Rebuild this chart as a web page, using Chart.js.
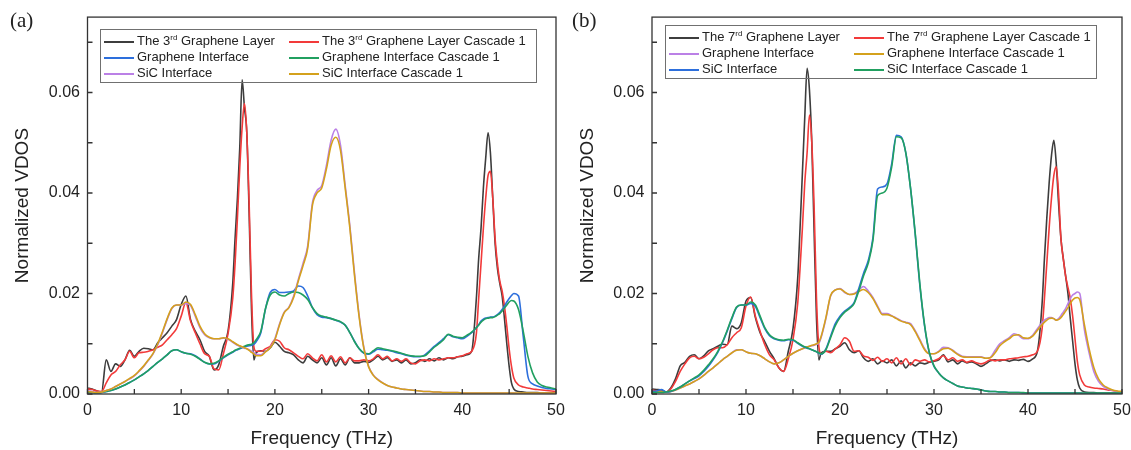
<!DOCTYPE html>
<html>
<head>
<meta charset="utf-8">
<script src="https://cdn.jsdelivr.net/npm/chart.js@4.4.1/dist/chart.umd.min.js"></script>
<style>
body { margin: 0; background: #fff; width: 1131px; height: 450px; position: relative; overflow: hidden; font-family: "Liberation Sans", Arial, sans-serif; color: #222; }
.panel { position: absolute; top: 0; }
.tag { position: absolute; top: 8px; font: 21px "Liberation Serif", "Times New Roman", serif; color: #222; }
.legend { position: absolute; border: 1px solid #707070; font-size: 13px; color: #222; }
.item { position: absolute; white-space: nowrap; line-height: 16px; }
.item i { display: inline-block; width: 30px; border-top: 2px solid; vertical-align: middle; margin-right: 3px; }
.item sup { font-size: 8px; vertical-align: top; line-height: 9px; }
</style>
</head>
<body>
<canvas id="chartA" class="panel" width="565" height="450" style="left:0"></canvas>
<canvas id="chartB" class="panel" width="566" height="450" style="left:565px"></canvas>
<div class="tag" style="left:10px">(a)</div>
<div class="tag" style="left:572px">(b)</div>
<div id="legA" class="legend" style="left:100px;top:29px;width:435px;height:52px"></div>
<div id="legB" class="legend" style="left:665px;top:25px;width:430px;height:52px"></div>
<script>
// frequency grid (THz), finer around the sharp graphene peaks
const freq = [
  0,.5,1,1.5,2,2.5,3,3.5,4,4.5,
  5,5.5,6,6.5,7,7.5,8,8.5,9,9.5,
  10,10.5,11,11.5,12,12.5,13,13.5,14,14.5,
  15,15.5,15.75,16,16.25,16.5,16.75,17,17.25,17.5,17.75,18,
  18.5,19,19.5,20,20.5,21,21.5,22,22.5,23,
  23.5,24,24.5,25,25.5,26,26.5,27,27.5,28,
  28.5,29,29.5,30,30.5,31,31.5,32,32.5,33,
  33.5,34,34.5,35,35.5,36,36.5,37,37.5,38,
  38.5,39,39.5,40,40.5,41,41.5,
  41.75,42,42.25,42.5,42.75,43,43.25,43.5,43.75,44,44.25,44.5,44.75,45,45.25,45.5,
  46,46.5,47,47.5,48,48.5,49,49.5,50
];

// panel (a)
const a3rd = [
  .0012,.001,.0006,.0004,.0068,.0045,.006,.0055,.0068,.0087,
  .0075,.0085,.0091,.009,.0088,.0102,.0112,.0122,.0135,.0148,
  .0178,.0195,.0148,.0125,.0108,.0085,.0075,.0048,.0058,.0095,
  .0125,.022,.031,.039,.049,.0625,.057,.052,.036,.017,.0068,.0082,
  .0086,.0085,.0092,.0103,.0095,.0085,.0082,.0078,.0068,.0062,
  .0075,.0068,.0062,.0072,.0058,.0072,.0056,.007,.0058,.0072,
  .0062,.0062,.0065,.0063,.0068,.0075,.0068,.0072,.0065,.0068,
  .0062,.0068,.006,.0062,.0068,.0065,.007,.0066,.0072,.0068,
  .0072,.007,.0074,.0075,.0078,.0085,.019,
  .027,.033,.041,.047,.052,.048,.039,.03,.025,.022,.0195,.015,.01,.0055,.0022,.001,
  .0005,.0004,.0003,.0003,.0003,.0002,.0002,.0002,.0002
];
const a3rdCas = [
  .001,.0009,.0006,.0005,.0022,.0038,.0045,.0058,.0068,.0085,
  .0072,.0082,.0083,.0085,.0088,.0093,.0098,.0108,.0118,.013,
  .0155,.0182,.0145,.0122,.01,.008,.0075,.005,.0048,.008,
  .012,.019,.026,.035,.045,.053,.0578,.052,.038,.02,.0095,.0085,
  .0085,.009,.0095,.0108,.0105,.0092,.0088,.0082,.0075,.007,
  .008,.0072,.0066,.0078,.0064,.0076,.0064,.0074,.0062,.0072,
  .0066,.0066,.0068,.0066,.007,.0078,.007,.0075,.0066,.007,
  .0065,.007,.0062,.006,.0066,.0068,.0066,.007,.0068,.007,
  .0072,.0072,.0074,.0076,.008,.0085,.012,
  .019,.026,.033,.039,.0435,.0443,.039,.031,.026,.0225,.0205,.0175,.0135,.009,.0055,.0032,
  .0018,.0014,.0012,.001,.0009,.0008,.0007,.0006,.0005
];
const aGraph = [
  .0004,.0003,.0002,.0003,.0005,.0007,.001,.0014,.0018,.0023,
  .0028,.0034,.004,.0047,.0055,.0063,.007,.0078,.0086,.0088,
  .0084,.0081,.008,.0076,.007,.0063,.006,.006,.0065,.0072,
  .0078,.0083,.0086,.0088,.009,.0092,.0094,.0095,.0096,.0097,.0099,.0104,
  .0122,.017,.0202,.0208,.0202,.0202,.0203,.0205,.0215,.0212,
  .0195,.0172,.0158,.0153,.0152,.015,.0147,.0143,.0137,.0122,
  .0105,.009,.0081,.0079,.0084,.0089,.0088,.0087,.0085,.0082,
  .008,.0077,.0075,.0074,.0074,.0078,.0086,.0095,.0102,.011,
  .0118,.0114,.0112,.011,.0115,.0122,.0132,
  .0138,.0145,.0149,.0151,.0152,.0153,.0153,.0155,.0158,.0162,.0168,.0175,.0183,.019,.0196,.02,
  .0195,.0115,.0035,.002,.0016,.0013,.0011,.001,.0009
];
const aGraphCas = [
  .0004,.0003,.0002,.0003,.0005,.0007,.001,.0014,.0018,.0023,
  .0028,.0034,.004,.0047,.0055,.0063,.007,.0078,.0086,.0088,
  .0084,.0081,.0079,.0075,.0069,.0063,.006,.0061,.0066,.0073,
  .0079,.0084,.0087,.0089,.0091,.0093,.0095,.0097,.0098,.0099,.0102,.0108,
  .0125,.017,.0197,.0203,.0197,.0195,.02,.0203,.0202,.0197,
  .0188,.0172,.016,.0155,.0153,.015,.0147,.0144,.0137,.0122,
  .0104,.009,.0082,.008,.0086,.0092,.009,.0088,.0086,.0084,
  .0081,.0078,.0076,.0075,.0075,.0076,.0084,.0093,.01,.0108,
  .0119,.0115,.0113,.0112,.0117,.0123,.0132,
  .0137,.0143,.0147,.015,.0151,.0152,.0152,.0154,.0157,.016,.0165,.0171,.0177,.0183,.0186,.0185,
  .0168,.0125,.0075,.0042,.0024,.0017,.0014,.0012,.001
];
const aSic = [
  .0006,.0005,.0003,.0004,.0007,.001,.0015,.002,.0025,.003,
  .0036,.0045,.0055,.0067,.008,.0098,.0122,.0148,.017,.0177,
  .0177,.018,.0176,.0155,.0132,.0118,.0112,.011,.011,.0111,
  .0109,.0103,.01,.0097,.0095,.0093,.0091,.009,.0088,.0085,.0082,.0079,
  .0078,.0085,.0093,.011,.014,.0163,.0173,.0195,.0228,.026,
  .0295,.038,.0405,.0415,.0455,.0505,.0527,.0495,.0415,.0335,
  .024,.0155,.0092,.0055,.0038,.0029,.0022,.0017,.0014,.0012,
  .001,.0009,.0008,.0007,.0006,.0005,.0005,.0004,.0004,.0003,
  .0003,.0003,.0003,.0002,.0002,.0002,.0002,
  .0002,.0002,.0002,.0002,.0002,.0002,.0002,.0002,.0002,.0002,.0002,.0002,.0002,.0002,.0002,.0002,
  .0001,.0001,.0001,.0001,.0001,.0001,.0001,.0001,.0001
];
const aSicCas = [
  .0005,.0004,.0003,.0004,.0007,.001,.0015,.002,.0025,.0031,
  .0037,.0046,.0056,.0068,.0081,.01,.0124,.015,.0171,.0177,
  .0177,.0183,.0178,.0158,.0135,.012,.0113,.011,.011,.0112,
  .011,.0104,.0101,.0098,.0096,.0094,.0092,.009,.0087,.0083,.008,.0076,
  .0076,.0084,.0092,.0108,.0138,.0162,.0172,.0192,.0225,.0255,
  .029,.0375,.04,.041,.0448,.0495,.0511,.0485,.041,.033,
  .0235,.0152,.009,.0054,.0037,.0028,.0022,.0017,.0014,.0012,
  .001,.0009,.0008,.0007,.0006,.0005,.0005,.0004,.0004,.0003,
  .0003,.0003,.0003,.0002,.0002,.0002,.0002,
  .0002,.0002,.0002,.0002,.0002,.0002,.0002,.0002,.0002,.0002,.0002,.0002,.0002,.0002,.0002,.0002,
  .0002,.0002,.0002,.0002,.0002,.0002,.0002,.0002,.0002
];

// panel (b)
const b7th = [
  .001,.0009,.0008,.0004,.0012,.003,.0056,.0063,.0075,.0078,
  .007,.0076,.0086,.009,.0095,.0099,.0098,.0135,.013,.0142,
  .0185,.0192,.0152,.0122,.0104,.0085,.007,.0052,.0045,.0085,
  .013,.023,.033,.044,.055,.0648,.0605,.05,.032,.015,.0068,.0082,
  .0085,.0085,.009,.0095,.0102,.0088,.0082,.0086,.0072,.0065,
  .007,.006,.0066,.0062,.0068,.0056,.0066,.0052,.0062,.0056,
  .0062,.006,.0063,.0065,.0068,.0078,.0064,.0068,.006,.0066,
  .0062,.0064,.006,.0055,.006,.0066,.0068,.0066,.0068,.0065,
  .0068,.0067,.0069,.0065,.007,.0085,.018,
  .027,.035,.042,.0475,.0505,.046,.038,.031,.027,.0235,.02,.015,.0105,.006,.0028,.0012,
  .0004,.0003,.0003,.0002,.0002,.0002,.0002,.0002,.0002
];
const b7thCas = [
  .0008,.0006,.0005,.0004,.001,.0025,.0045,.006,.0072,.0075,
  .007,.0073,.008,.0088,.0092,.0092,.0098,.0112,.0122,.0132,
  .0175,.0193,.0155,.0125,.0098,.0078,.0068,.0052,.0045,.007,
  .0108,.018,.025,.033,.042,.048,.0555,.05,.037,.019,.0095,.008,
  .0085,.0082,.009,.0098,.0112,.0105,.0085,.0086,.0076,.0073,
  .0067,.0073,.0065,.007,.0062,.0072,.006,.007,.0058,.0068,
  .0065,.0068,.0064,.0066,.007,.0076,.0068,.0072,.0065,.0068,
  .0063,.0066,.0062,.006,.0063,.0068,.0066,.0068,.0068,.007,
  .0071,.0072,.0074,.0075,.0078,.0085,.013,
  .019,.026,.033,.039,.0435,.0452,.04,.031,.027,.0235,.0212,.019,.0155,.011,.0065,.0038,
  .0018,.0014,.0012,.0011,.001,.0008,.0007,.0005,.0004
];
const bGraph = [
  .0003,.0004,.0005,.0004,.0005,.0008,.0012,.0016,.002,.0025,
  .003,.0037,.0045,.0052,.006,.0068,.0075,.0082,.0088,.0088,
  .0084,.0081,.008,.0076,.007,.0064,.006,.0062,.0068,.0075,
  .0081,.0086,.0088,.009,.0092,.0093,.0095,.0096,.0097,.0099,.0101,.0113,
  .015,.0195,.0207,.021,.0202,.0198,.02,.0207,.0214,.0205,
  .0192,.0175,.016,.016,.0156,.0151,.0146,.0143,.014,.0126,
  .0108,.009,.008,.008,.0085,.0093,.0092,.0087,.008,.0075,
  .0074,.0074,.0074,.0074,.0071,.0073,.0087,.01,.0106,.0112,
  .012,.0117,.011,.011,.0117,.013,.0142,
  .0147,.015,.0152,.0152,.015,.0147,.015,.0156,.0163,.017,.018,.019,.0197,.02,.0203,.02,
  .0128,.0082,.0045,.0025,.0015,.001,.0007,.0005,.0004
];
const bGraphCas = [
  .0003,.0004,.0005,.0004,.0005,.0008,.0012,.0016,.002,.0025,
  .003,.0037,.0045,.0052,.006,.0068,.0075,.0082,.0087,.0088,
  .0084,.0081,.008,.0076,.007,.0064,.006,.0062,.0068,.0075,
  .0081,.0086,.0088,.009,.0092,.0094,.0095,.0097,.0098,.01,.0103,.0115,
  .0152,.0196,.0207,.0209,.0203,.0198,.0199,.0204,.0208,.0202,
  .019,.0173,.0158,.0158,.0155,.015,.0145,.0142,.0138,.0124,
  .0106,.0088,.008,.008,.0084,.009,.0091,.0086,.0079,.0074,
  .0073,.0073,.0073,.0073,.0071,.0072,.0082,.0096,.0104,.011,
  .0117,.0118,.0112,.0111,.0115,.0127,.0138,
  .0143,.0147,.015,.0151,.015,.0147,.0148,.0152,.0158,.0165,.0172,.018,.0187,.0191,.0192,.0188,
  .0138,.009,.0053,.003,.0018,.0012,.0008,.0006,.0005
];
const bSic = [
  .0005,.0006,.0009,.0004,.0005,.0009,.0014,.002,.0026,.0031,
  .0036,.0045,.0055,.0068,.0083,.0102,.0125,.015,.0172,.0177,
  .0177,.018,.0174,.0152,.013,.0116,.011,.0107,.0106,.0108,
  .0107,.0101,.0098,.0095,.0093,.0091,.009,.0088,.0086,.0084,.0081,.0079,
  .009,.0115,.014,.0155,.0165,.0172,.0182,.021,.024,.0265,
  .031,.0408,.0412,.0418,.0458,.0515,.0512,.048,.041,.0318,
  .0215,.0135,.0082,.0055,.0042,.0032,.0026,.0021,.0016,.0014,
  .0012,.0011,.001,.0008,.0006,.0005,.0005,.0004,.0004,.0003,
  .0003,.0003,.0002,.0002,.0002,.0002,.0002,
  .0002,.0002,.0002,.0002,.0002,.0002,.0002,.0002,.0002,.0002,.0002,.0002,.0002,.0002,.0002,.0002,
  .0001,.0001,.0001,.0001,.0001,.0001,.0001,.0001,.0001
];
const bSicCas = [
  .0004,.0003,.0003,.0004,.0006,.0009,.0014,.002,.0026,.0032,
  .0038,.0047,.0058,.007,.0085,.0104,.0127,.0152,.0173,.0177,
  .0177,.0183,.0177,.0155,.0132,.0118,.0111,.0108,.0107,.0109,
  .0108,.0102,.0099,.0096,.0094,.0092,.009,.0088,.0086,.0084,.0082,.008,
  .0088,.0112,.0136,.0152,.0163,.017,.018,.0205,.0235,.026,
  .0305,.0395,.04,.041,.0452,.0512,.051,.048,.041,.032,
  .0218,.0137,.0083,.0056,.0042,.0032,.0026,.0021,.0016,.0014,
  .0012,.0011,.001,.0008,.0006,.0005,.0005,.0004,.0004,.0003,
  .0003,.0003,.0003,.0002,.0002,.0002,.0002,
  .0002,.0002,.0002,.0002,.0002,.0002,.0002,.0002,.0002,.0002,.0002,.0002,.0002,.0002,.0002,.0002,
  .0002,.0002,.0002,.0002,.0002,.0002,.0002,.0002,.0002
];

const labelsA = ['The 3rd Graphene Layer', 'The 3rd Graphene Layer Cascade 1', 'Graphene Interface',
  'Graphene Interface Cascade 1', 'SiC Interface', 'SiC Interface Cascade 1'];
const labelsB = ['The 7rd Graphene Layer', 'The 7rd Graphene Layer Cascade 1', 'Graphene Interface',
  'Graphene Interface Cascade 1', 'SiC Interface', 'SiC Interface Cascade 1'];

const black = '#3d3d3d', red = '#f23a3a', blue = '#2d6fdc', green = '#21a060', purple = '#bb80e6', orange = '#d4a11c';
const colorsA = [black, red, blue, green, purple, orange];
const colorsB = [black, red, purple, orange, blue, green];

Chart.defaults.font.family = '"Liberation Sans", Arial, sans-serif';
Chart.defaults.color = '#222';

// box frame plus inward tick marks
const frame = {
  id: 'frame',
  afterDraw(chart) {
    const {ctx, chartArea: a, scales: {x, y}} = chart;
    ctx.save();
    ctx.strokeStyle = '#333';
    ctx.lineWidth = 1.3;
    ctx.strokeRect(a.left, a.top, a.right - a.left, a.bottom - a.top);
    ctx.beginPath();
    x.ticks.forEach(t => {
      const px = x.getPixelForValue(t.value);
      ctx.moveTo(px, a.bottom);
      ctx.lineTo(px, a.bottom - 5);
    });
    y.ticks.forEach(t => {
      const py = y.getPixelForValue(t.value);
      ctx.moveTo(a.left, py);
      ctx.lineTo(a.left + 5, py);
    });
    ctx.stroke();
    ctx.restore();
  }
};

function makeLegend(id, labels, colors) {
  const rows = [3, 19, 35];
  const cols = [3, 188];
  document.getElementById(id).innerHTML = labels.map((l, i) => {
    const txt = l.replace(/(\d)(rd)/, '$1<sup>$2</sup>');
    return '<div class="item" style="left:' + cols[i % 2] + 'px;top:' + rows[Math.floor(i / 2)] + 'px">' +
      '<i style="border-color:' + colors[i] + '"></i>' + txt + '</div>';
  }).join('');
}

function makeChart(id, series, labels, colors, yWidth, padTop) {
  const datasets = series.map((vals, i) => ({
    label: labels[i],
    data: freq.map((f, j) => ({x: f, y: vals[j]})),
    borderColor: colors[i],
    borderWidth: 1.6,
    pointRadius: 0,
    cubicInterpolationMode: 'monotone',
    order: 6 - i
  }));
  return new Chart(document.getElementById(id), {
    type: 'line',
    data: {datasets},
    options: {
      responsive: false,
      animation: false,
      layout: {padding: {left: 0, right: 9, top: padTop, bottom: 0}},
      plugins: {legend: {display: false}, tooltip: {enabled: false}},
      scales: {
        x: {
          type: 'linear', min: 0, max: 50,
          grid: {display: false, drawTicks: true, tickLength: 7},
          border: {display: false},
          ticks: {stepSize: 5, padding: 0, maxRotation: 0, autoSkip: false, font: {size: 16},
            callback: v => (v % 10 === 0 ? v : '')},
          title: {display: true, text: 'Frequency (THz)', font: {size: 19}, padding: {top: 0, bottom: 0}},
          afterFit: s => { s.height = 56; }
        },
        y: {
          min: 0, max: 0.075,
          grid: {display: false, drawTicks: false},
          border: {display: false},
          ticks: {stepSize: 0.01, includeBounds: false, padding: 7.5, font: {size: 16},
            callback: v => (Math.round(v * 100) % 2 === 0 ? v.toFixed(2) : '')},
          title: {display: true, text: 'Normalized VDOS', font: {size: 19}, padding: {top: 11, bottom: 0}},
          afterFit: s => { s.width = yWidth; }
        }
      }
    },
    plugins: [frame]
  });
}

makeChart('chartA', [a3rd, a3rdCas, aGraph, aGraphCas, aSic, aSicCas], labelsA, colorsA, 87.5, 16);
makeChart('chartB', [b7th, b7thCas, bGraph, bGraphCas, bSic, bSicCas], labelsB, colorsB, 87, 15);
makeLegend('legA', labelsA, colorsA);
makeLegend('legB', labelsB, colorsB);
</script>
</body>
</html>
